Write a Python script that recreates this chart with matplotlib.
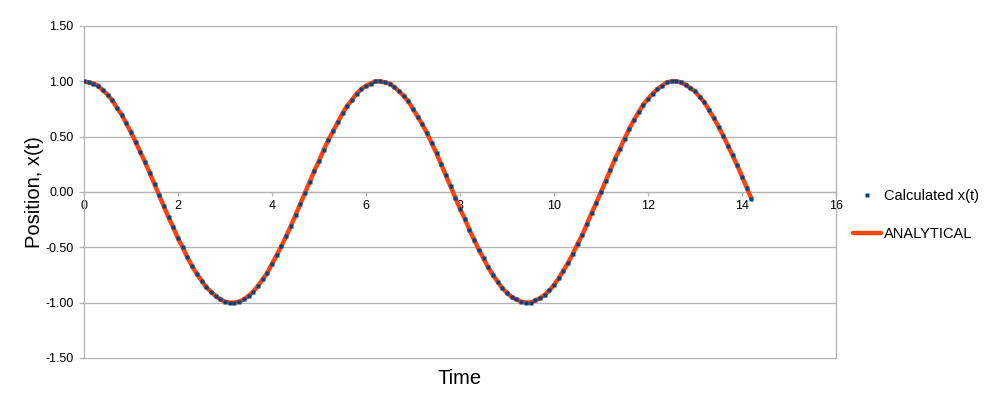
import matplotlib
matplotlib.use("Agg")
import matplotlib.pyplot as plt
from matplotlib.ticker import FormatStrFormatter

plt.rcParams['font.family'] = ['Liberation Sans', 'DejaVu Sans']

# time samples (0.0 .. 14.2, step 0.1) and position values
time = [round(0.1 * i, 1) for i in range(143)]
position = [
    1.00, 0.99, 0.98, 0.96, 0.92, 0.88, 0.83, 0.76, 0.70, 0.62,
    0.54, 0.45, 0.36, 0.27, 0.17, 0.07, -0.03, -0.13, -0.23, -0.32,
    -0.42, -0.50, -0.59, -0.67, -0.74, -0.80, -0.86, -0.90, -0.94, -0.97,
    -0.99, -1.00, -1.00, -0.99, -0.97, -0.94, -0.90, -0.85, -0.79, -0.73,
    -0.65, -0.57, -0.49, -0.40, -0.31, -0.21, -0.11, -0.01, 0.09, 0.19,
    0.28, 0.38, 0.47, 0.55, 0.63, 0.71, 0.78, 0.83, 0.89, 0.93,
    0.96, 0.98, 1.00, 1.00, 0.99, 0.98, 0.95, 0.91, 0.87, 0.82,
    0.75, 0.68, 0.61, 0.53, 0.44, 0.35, 0.25, 0.15, 0.05, -0.05,
    -0.15, -0.24, -0.34, -0.43, -0.52, -0.60, -0.68, -0.75, -0.81, -0.87,
    -0.91, -0.95, -0.97, -0.99, -1.00, -1.00, -0.98, -0.96, -0.93, -0.89,
    -0.84, -0.78, -0.71, -0.64, -0.56, -0.47, -0.39, -0.29, -0.19, -0.10,
    0.00, 0.10, 0.20, 0.30, 0.39, 0.48, 0.57, 0.65, 0.72, 0.79,
    0.84, 0.89, 0.93, 0.96, 0.99, 1.00, 1.00, 0.99, 0.97, 0.94,
    0.91, 0.86, 0.81, 0.74, 0.67, 0.59, 0.51, 0.42, 0.33, 0.24,
    0.14, 0.04, -0.06,
]
analytical = position

x_ticks = [0, 2, 4, 6, 8, 10, 12, 14, 16]
y_ticks = [-1.5, -1.0, -0.5, 0.0, 0.5, 1.0, 1.5]

grey = '#b3b3b3'

fig = plt.figure(figsize=(9.9, 3.93), dpi=100)
ax = fig.add_axes([84 / 990, 1 - 358 / 393, 752 / 990, 332 / 393])

line, = ax.plot(time, analytical, color='#ff420e', lw=3.2,
                solid_capstyle='round', zorder=3, label='ANALYTICAL')
dots, = ax.plot(time, position, ls='none', marker='s', ms=2.2,
                color='#004586', mec='none', zorder=4, label='Calculated x(t)')

ax.set_xlim(0, 16)
ax.set_ylim(-1.5, 1.5)
ax.set_xticks(x_ticks)
ax.set_yticks(y_ticks)
ax.yaxis.set_major_formatter(FormatStrFormatter('%.2f'))

ax.yaxis.grid(True, color=grey, lw=0.9, zorder=0)
ax.set_axisbelow(True)
for gl in ax.get_ygridlines():
    gl.set_clip_on(False)

ax.spines['top'].set_visible(False)
ax.spines['bottom'].set_position(('data', 0))
for s in ('left', 'right', 'bottom'):
    ax.spines[s].set_color(grey)
    ax.spines[s].set_linewidth(0.9)
    ax.spines[s].set_zorder(1)

ax.tick_params(axis='x', direction='out', length=3, width=0.9, color=grey,
               pad=3, labelsize=9, labelcolor='black')
ax.tick_params(axis='y', direction='out', length=3.6, width=0.9, color=grey,
               pad=4, labelsize=9, labelcolor='black')

ax.set_xlabel('Time', fontsize=14.5)
ax.xaxis.set_label_coords(0.5, -20 / 332)
ax.xaxis.label.set_verticalalignment('center')
ax.set_ylabel('Position, x(t)', fontsize=14.5)
ax.yaxis.set_label_coords(-49 / 752, 0.5)
ax.yaxis.label.set_verticalalignment('center')

fig.legend([dots, line], ['Calculated x(t)', 'ANALYTICAL'],
           loc='center left', bbox_to_anchor=(853 / 990, 1 - 215 / 393),
           frameon=False, fontsize=10.5, handlelength=1.9, handletextpad=0.2,
           labelspacing=1.7, borderpad=0, borderaxespad=0, markerscale=1.2)

fig.savefig('out.png', dpi=100)
